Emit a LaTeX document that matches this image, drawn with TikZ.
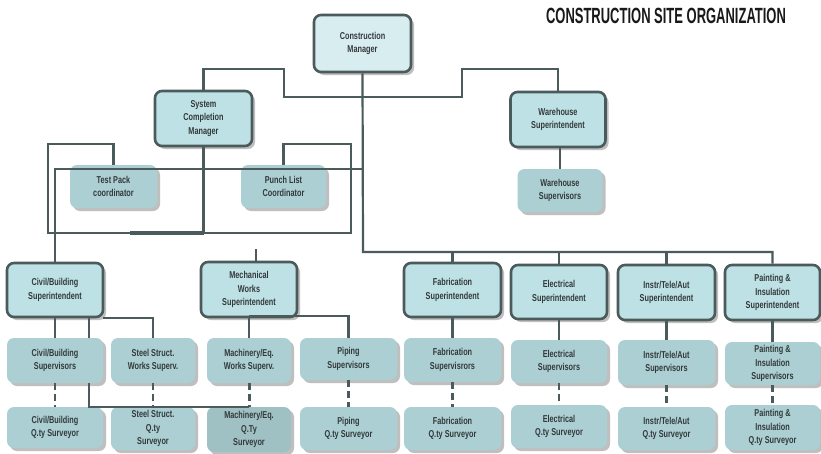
\documentclass[tikz,border=0pt]{standalone}
\usepackage{fontspec}
\setmainfont{Liberation Sans}
\newfontfamily\boxfont[FakeStretch=0.73]{Liberation Sans Bold}
\newfontfamily\titlefont[FakeStretch=0.59]{Liberation Sans Bold}
\usetikzlibrary{shadows}
\definecolor{edge}{HTML}{4B5A5B}
\definecolor{supfill}{HTML}{BDE1E4}
\definecolor{cmfill}{HTML}{D8EDF0}
\definecolor{subfill}{HTML}{ABCFD2}
\definecolor{darkfill}{HTML}{9FC1C3}
\definecolor{txt}{HTML}{33393B}
\tikzset{
  sz/.style 2 args={minimum width=#1pt,minimum height=#2pt},
  box/.style={rounded corners=7pt, align=center, inner sep=0pt,
    font=\boxfont\fontsize{10}{13.5}\selectfont, text=txt,
    drop shadow={shadow xshift=3pt,shadow yshift=-3pt,fill=black!25,opacity=1}},
  supbox/.style={box, draw=edge, line width=2.6pt, fill=supfill},
  cmbox/.style={supbox, fill=cmfill},
  subbox/.style={box, fill=subfill},
  darkbox/.style={box, fill=darkfill},
  link/.style={draw=edge, line width=2.2pt},
  thicklink/.style={draw=edge, line width=3.5pt},
  dlink/.style={draw=edge, line width=2.2pt, dash pattern=on 7pt off 4pt},
  dthick/.style={draw=edge, line width=3pt, dash pattern=on 7pt off 4pt},
}
\begin{document}
\begin{tikzpicture}[x=1pt,y=-1pt]
\useasboundingbox (0,0) rectangle (821,453);
\fill[white] (0,0) rectangle (821,453);

% title
\node[font=\titlefont\fontsize{22}{22}\selectfont, text=black!90] (title) at (666,16) {CONSTRUCTION SITE ORGANIZATION};

% top level
\node[cmbox, sz={97}{57}] (cm) at (362.5,43.5) {Construction\\Manager};
\node[supbox, sz={97}{55}] (scm) at (203.5,118.5) {System\\Completion\\Manager};
\node[subbox, sz={87}{43}] (tp) at (113.5,186.5) {Test Pack\\coordinator};
\node[subbox, sz={85}{43}] (pl) at (283.5,186.5) {Punch List\\Coordinator};
\node[supbox, sz={95}{55}] (ws) at (558,119.5) {Warehouse\\Superintendent};
\node[subbox, sz={85}{43}] (wsv) at (560,190.5) {Warehouse\\Supervisors};

% superintendents
\node[supbox, sz={96}{54}] (civ) at (55,290) {Civil/Building\\Superintendent};
\node[supbox, sz={96}{55}] (mech) at (249,289.5) {Mechanical\\Works\\Superintendent};
\node[supbox, sz={97}{54}] (fab) at (452.5,290) {Fabrication\\Superintendent};
\node[supbox, sz={96}{54}] (ele) at (559,292) {Electrical\\Superintendent};
\node[supbox, sz={97}{55}] (ins) at (666.5,292.5) {Instr/Tele/Aut\\Superintendent};
\node[supbox, sz={95}{55}] (pai) at (772.5,292.5) {Painting \&\\Insulation\\Superintendent};

% supervisors
\node[subbox, sz={96}{45}] (civsv) at (55,360.5) {Civil/Building\\Supervisors};
\node[subbox, sz={84}{45}] (stsv) at (153,360.5) {Steel Struct.\\Works Superv.};
\node[subbox, sz={84}{45}] (masv) at (249,360.5) {Machinery/Eq.\\Works Superv.};
\node[subbox, sz={97}{42}] (pisv) at (348.5,359) {Piping\\Supervisors};
\node[subbox, sz={97}{44}] (fasv) at (452.5,360) {Fabrication\\Supervisrors};
\node[subbox, sz={96}{43}] (elsv) at (559,361.5) {Electrical\\Supervisors};
\node[subbox, sz={97}{45}] (insv) at (666.5,362.5) {Instr/Tele/Aut\\Supervisors};
\node[subbox, sz={95}{43}] (paisv) at (772.5,363.5) {Painting \&\\Insulation\\Supervisors};

% quantity surveyors
\node[subbox, sz={96}{41}] (civq) at (55,427.5) {Civil/Building\\Q.ty Surveyor};
\node[subbox, sz={84}{43}] (stq) at (153,428.5) {Steel Struct.\\Q.ty\\Surveyor};
\node[darkbox, sz={84}{45}] (maq) at (249,429.5) {Machinery/Eq.\\Q.Ty\\Surveyor};
\node[subbox, sz={97}{43}] (piq) at (348.5,428.5) {Piping\\Q.ty Surveyor};
\node[subbox, sz={97}{43}] (faq) at (452.5,428.5) {Fabrication\\Q.ty Surveyor};
\node[subbox, sz={96}{43}] (elq) at (559,426.5) {Electrical\\Q.ty Surveyor};
\node[subbox, sz={97}{43}] (insq) at (666.5,428.5) {Instr/Tele/Aut\\Q.ty Surveyor};
\node[subbox, sz={95}{45}] (paiq) at (772.5,427.5) {Painting \&\\Insulation\\Q.ty Surveyor};

% coordinates for bends
\coordinate (tr) at (363,252);
\coordinate (a1) at (284,69);
\coordinate (a2) at (284,97);
\coordinate (a3) at (462,97);
\coordinate (a4) at (462,69);
\coordinate (b1) at (363,169);
\coordinate (c1) at (48,144);
\coordinate (c2) at (48,233);
\coordinate (c3) at (351,233);
\coordinate (c4) at (351,144);
\coordinate (c5) at (130,233);
\coordinate (m1) at (256,249);
\coordinate (d1) at (89,300);
\coordinate (d2) at (89,407);
\coordinate (d3) at (249,407);
\coordinate (e1) at (103,318);
\coordinate (f1) at (249,316);

% connectors
\draw[link] (cm.south) -- (tr) -| (pai.north);
\draw[link] (fab.north) -- (fab.north |- tr);
\draw[link] (ele.north) -- (ele.north |- tr);
\draw[link] (ins.north) -- (ins.north |- tr);
\draw[link] (scm.north) |- (a1) -- (a2) -- (a3) -- (a4) -| (ws.north);
\draw[link] (wsv.north) -- (wsv.north |- ws.south);
\draw[link] (b1) -| (civ.north);
\draw[link] (tp.north) |- (c1) -- (c2) -- (c3) -- (c4) -| (pl.north);
\draw[link] (scm.south) -- (scm.south |- c2);
\draw[thicklink] (c5) -- (scm.south |- c2);
\draw[link] (m1) -- (m1 |- mech.north);

\draw[link] (civ.south) -- (civsv.north);
\draw[link] (civ.south -| d1) -- (civsv.north -| d1);
\draw[link] (civsv.south -| d1) -- (d2) -- (d3);
\draw[link] (e1) -| (stsv.north);
\draw[link] (mech.south) -- (masv.north);
\draw[link] (f1) -| (pisv.north);
\draw[link] (fab.south) -- (fasv.north);
\draw[link] (ele.south) -- (elsv.north);
\draw[link] (ins.south) -- (insv.north);
\draw[link] (pai.south) -- (paisv.north);

\draw[dlink] (civsv.south) -- (civq.north);
\draw[dlink] (stsv.south) -- (stq.north);
\draw[dthick] (masv.south) -- (maq.north);
\draw[dlink] (pisv.south) -- (piq.north);
\draw[dlink] (fasv.south) -- (faq.north);
\draw[dlink] (elsv.south) -- (elq.north);
\draw[dlink] (insv.south) -- (insq.north);
\draw[dlink] (paisv.south) -- (paiq.north);
\end{tikzpicture}
\end{document}
